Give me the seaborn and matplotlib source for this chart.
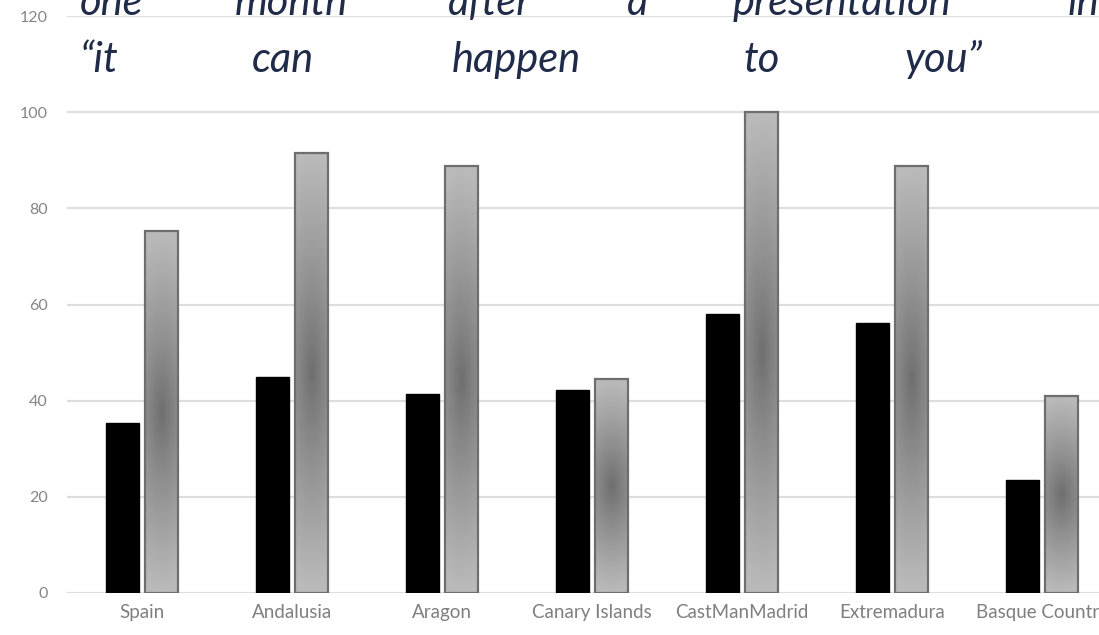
import matplotlib
matplotlib.use("Agg")
import matplotlib.pyplot as plt
import pandas as pd
import seaborn as sns
import numpy as np

# datos
regions = ["Spain", "Andalusia", "Aragon", "Canary Islands",
           "CastManMadrid", "Extremadura", "Basque Country"]
first_values = [35.4, 45.0, 41.3, 42.3, 58.0, 56.1, 23.5]
second_values = [75.2, 91.6, 88.8, 44.5, 100.0, 88.8, 40.9]
series_names = ["first", "second"]
yticks = [0, 20, 40, 60, 80, 100, 120]
title_line1 = ["one", "month", "after", "a", "presentation", "in"]
title_line2 = ["\u201cit", "can", "happen", "to", "you\u201d"]

df = pd.DataFrame({
    "region": regions * 2,
    "serie": [series_names[0]] * len(regions) + [series_names[1]] * len(regions),
    "value": first_values + second_values,
})

sns.set_style("white")
plt.rcParams["font.family"] = ["Lato", "DejaVu Sans"]

fig = plt.figure(figsize=(10.99, 6.35), dpi=100)
# el grafico original esta recortado a la derecha
ax = fig.add_axes([67 / 1099, 42 / 635, 1050 / 1099, 577 / 635])

sns.barplot(data=df, x="region", y="value", hue="serie", order=regions,
            hue_order=series_names, palette=["black", "#b5b5b5"],
            width=0.52, gap=0.13, legend=False, ax=ax, zorder=3)

#degradado gris: claro arriba y abajo, oscuro en el medio
t = np.linspace(0, 1, 200)
s = np.linspace(0, 1, 20)
T, S = np.meshgrid(t, s, indexing="ij")
dist = np.sqrt(((T - 0.5) * 2) ** 2 + ((S - 0.5) * 2 * 0.35) ** 2)
dist = np.clip(dist, 0, 1)
light, dark = 0.73, 0.43
grad = dark + (light - dark) * dist ** 0.9

n = len(regions)
for i, p in enumerate(ax.patches[:2 * n]):
    if i < n:
        p.set_edgecolor("black")
        p.set_linewidth(1.0)
        continue
    x0, y0 = p.get_x(), p.get_y()
    w, h = p.get_width(), p.get_height()
    p.set_facecolor("none")
    p.set_edgecolor("#6e6e6e")
    p.set_linewidth(1.6)
    p.set_zorder(4)
    im = ax.imshow(grad, extent=[x0, x0 + w, y0, y0 + h], origin="lower",
                   cmap="gray", vmin=0, vmax=1, aspect="auto", zorder=3,
                   interpolation="bilinear")
    im.set_clip_path(p)

ax.set_xlim(-0.5, 6.5)
ax.set_ylim(0, 120)
ax.set_yticks(yticks)
ax.yaxis.grid(True, color="#dedede", linewidth=1.6, zorder=0)
ax.set_axisbelow(True)
sns.despine(ax=ax, left=True, bottom=True, top=True, right=True)
ax.set_xlabel("")
ax.set_ylabel("")
ax.tick_params(axis="y", length=0, pad=14, labelsize=11.5, labelcolor="#858585")
ax.tick_params(axis="x", length=0, pad=8, labelsize=13.5, labelcolor="#7f7f7f")

#titulo justificado palabra por palabra
title_color = "#1f2b48"
x1 = [80, 235, 448, 627, 733, 1068]
x2 = [80, 252, 452, 743, 904]
for word, xp in zip(title_line1, x1):
    fig.text(xp / 1099, 1 - 15 / 635, word, fontsize=30, style="italic",
             color=title_color, va="baseline", ha="left")
for word, xp in zip(title_line2, x2):
    fig.text(xp / 1099, 1 - 72 / 635, word, fontsize=30, style="italic",
             color=title_color, va="baseline", ha="left")

plt.savefig("out.png", dpi=100)
